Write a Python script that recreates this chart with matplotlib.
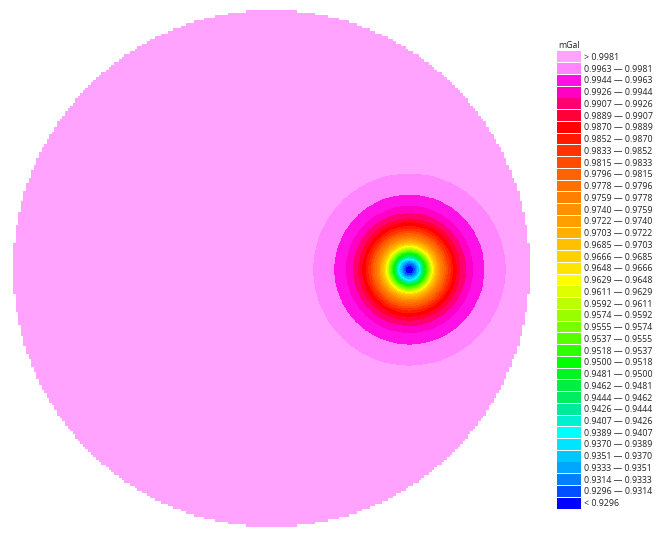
import numpy as np
import matplotlib
matplotlib.use("Agg")
import matplotlib.pyplot as plt
from matplotlib.colors import ListedColormap
from matplotlib.patches import Rectangle

# --- class edges of the legend (mGal), top to bottom ---
edges = [0.9981, 0.9963, 0.9944, 0.9926, 0.9907, 0.9889, 0.9870, 0.9852,
         0.9833, 0.9815, 0.9796, 0.9778, 0.9759, 0.9740, 0.9722, 0.9703,
         0.9685, 0.9666, 0.9648, 0.9629, 0.9611, 0.9592, 0.9574, 0.9555,
         0.9537, 0.9518, 0.9500, 0.9481, 0.9462, 0.9444, 0.9426, 0.9407,
         0.9389, 0.9370, 0.9351, 0.9333, 0.9314, 0.9296]

# radius (km) of each contour edge around the anomaly
ring_radius = [3.72, 2.90, 2.46, 2.19, 1.98, 1.83, 1.69, 1.59, 1.49, 1.41,
               1.33, 1.27, 1.20, 1.15, 1.09, 1.04, 0.99, 0.95, 0.91, 0.87,
               0.83, 0.79, 0.75, 0.71, 0.68, 0.64, 0.61, 0.57, 0.54, 0.50,
               0.47, 0.43, 0.39, 0.36, 0.31, 0.27, 0.21, 0.14]

# class colours, top (> 0.9981) to bottom (< 0.9296)
class_colors = ['#FFA3FF', '#FF86FF', '#FF10E6', '#FF00C4', '#FF0070',
                '#FF0038', '#FF0000', '#FF1A00', '#FF3300', '#FF4C00',
                '#FF6200', '#FF7000', '#FF8000', '#FF9000', '#FFA000',
                '#FFB000', '#FFC000', '#FFD000', '#FFE400', '#FFFF00',
                '#DDFF00', '#BBFF00', '#99FF00', '#77FF00', '#55FF00',
                '#30FF00', '#00FF00', '#00F520', '#00F040', '#00EE60',
                '#00EA9C', '#00F0D0', '#00FFFF', '#00E4FF', '#00C8FF',
                '#00A6FF', '#0080FF', '#0050FF', '#0000FF']

survey_radius = 10.0          # km
anomaly_center = (5.34, -0.04)  # km
cell = 0.1                     # survey grid spacing, km

# --- grids ---
n = 1100
x = np.linspace(-survey_radius, survey_radius, n)
X, Y = np.meshgrid(x, x)
Xc = (np.floor((X + survey_radius) / cell) + 0.5) * cell - survey_radius
Yc = (np.floor((Y + survey_radius) / cell) + 0.5) * cell - survey_radius
inside = Xc**2 + Yc**2 <= survey_radius**2

r = np.hypot(X - anomaly_center[0], Y - anomaly_center[1])
R = np.array(ring_radius)
cls = (r[..., None] <= R).sum(axis=-1)
cls = np.ma.masked_where(~inside, cls)

fig = plt.figure(figsize=(6.61, 5.46), dpi=100)
ax = fig.add_axes([13 / 661, 1 - 527 / 546, 517 / 661, 517 / 546])
cmap = ListedColormap(class_colors)
ax.imshow(cls, origin='lower', extent=[-10, 10, -10, 10], cmap=cmap,
          vmin=-0.5, vmax=len(class_colors) - 0.5, interpolation='nearest',
          aspect='auto')
ax.set_axis_off()

# --- legend ---
labels = ['> %.4f' % edges[0]]
for i in range(1, len(edges)):
    labels.append('%.4f \u2014 %.4f' % (edges[i], edges[i - 1]))
labels.append('< %.4f' % edges[-1])

lax = fig.add_axes([557 / 661, 1 - 509 / 546, 104 / 661, 458 / 546])
nlab = len(labels)
lax.set_xlim(0, 104)
lax.set_ylim(nlab, 0)
lax.set_axis_off()
for i, (lab, col) in enumerate(zip(labels, class_colors)):
    lax.add_patch(Rectangle((0, i + 0.04), 24, 0.92, facecolor=col,
                            edgecolor='none'))
    lax.text(27, i + 0.55, lab, fontsize=6.3, family='Open Sans',
             va='center', ha='left', color='#222222')
fig.text(558 / 661, 1 - 46 / 546, 'mGal', fontsize=6.3, family='Open Sans',
         va='center', ha='left', color='#222222')

fig.savefig('out.png', dpi=100)
